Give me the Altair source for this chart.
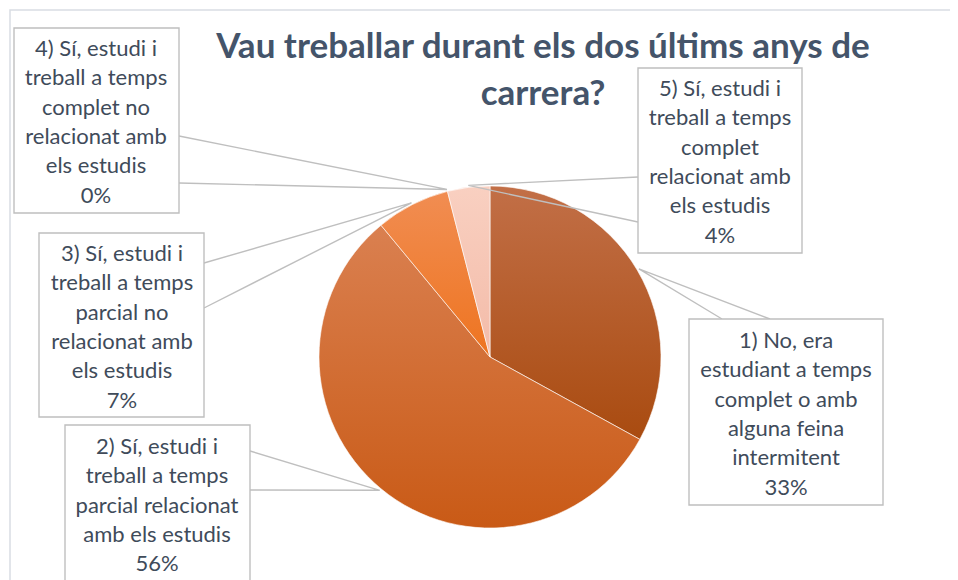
import math
import altair as alt
import pandas as pd

# ---------------- data ----------------
categories = [
    "1) No, era estudiant a temps complet o amb alguna feina intermitent",
    "2) Sí, estudi i treball a temps parcial relacionat amb els estudis",
    "3) Sí, estudi i treball a temps parcial no relacionat amb els estudis",
    "4) Sí, estudi i treball a temps complet no relacionat amb els estudis",
    "5) Sí, estudi i treball a temps complet relacionat amb els estudis",
]
values = [33, 56, 7, 0, 4]
label_lines = [
    ["1) No, era", "estudiant a temps", "complet o amb", "alguna feina", "intermitent"],
    ["2) Sí, estudi i", "treball a temps", "parcial relacionat", "amb els estudis"],
    ["3) Sí, estudi i", "treball a temps", "parcial no", "relacionat amb", "els estudis"],
    ["4) Sí, estudi i", "treball a temps", "complet no", "relacionat amb", "els estudis"],
    ["5) Sí, estudi i", "treball a temps", "complet", "relacionat amb", "els estudis"],
]
title_lines = ["Vau treballar durant els dos últims anys de", "carrera?"]

# ---------------- layout / style ----------------
W, H = 942, 572
OFF = 8
CX, CY, R = 490 - OFF, 357 - OFF, 171

slice_grad = [
    ("#C26F47", "#A94B10"),
    ("#DA8050", "#C95A16"),
    ("#F18D52", "#EE7420"),
    ("#F8CFC0", "#F8CFC0"),
    ("#F9D0C1", "#F3BBA8"),
]
# label boxes (page coords): x0, x1, y0, y1, text-centre x, first-line y, anchor A, anchor B
boxes = [
    (689, 883, 319, 505, 786, 341, (722, 319), (770, 319)),
    (65, 250, 425, 620, 157, 447, (250, 451), (250, 490)),
    (39, 204, 233, 417, 122, 254, (204, 263), (204, 308)),
    (14, 179, 28, 213, 96, 49, (179, 136), (179, 183)),
    (638, 802, 68, 253, 720, 89, (638, 177), (638, 222)),
]
LINE_COL = "#BFBFBF"
TEXT_COL = "#404B5A"
TITLE_COL = "#44546A"
FONT = "Lato"

xs = alt.Scale(domain=[0, W], range=[0, W], nice=False, zero=False)
ys = alt.Scale(domain=[0, H], range=[0, H], nice=False, zero=False)
theta_scale = alt.Scale(domain=[0, 100], range=[0, 2 * math.pi])

slices = pd.DataFrame({"cat": categories, "value": values, "order": list(range(len(values)))})

# ---------------- pie slices ----------------
arc_layers = []
for i, v in enumerate(values):
    if v == 0:
        continue
    c0, c1 = slice_grad[i]
    grad = alt.LinearGradient(
        gradient="linear",
        stops=[alt.GradientStop(color=c0, offset=0), alt.GradientStop(color=c1, offset=1)],
        x1=0, x2=0, y1=0, y2=1,
    )
    arc_layers.append(
        alt.Chart(slices)
        .transform_window(cum="sum(value)", sort=[alt.SortField("order")], frame=[None, 0])
        .transform_calculate(start="datum.cum - datum.value")
        .transform_filter(alt.datum.order == i)
        .mark_arc(fill=grad, stroke="white", strokeWidth=0.6, radius=R)
        .encode(
            theta=alt.Theta("start:Q", scale=theta_scale),
            theta2="cum:Q",
            x=alt.value(CX),
            y=alt.value(CY),
        )
    )

# ---------------- leader lines ----------------
total = sum(values)
rows = []
cum = 0
for i, v in enumerate(values):
    mid = (cum + v / 2) / total
    cum += v
    ang = 2 * math.pi * mid
    tx = CX + (R + 2) * math.sin(ang)
    ty = CY - (R + 2) * math.cos(ang)
    a, b = boxes[i][6], boxes[i][7]
    rows.append({"cat": categories[i], "seq": 0, "px": a[0] - OFF, "py": a[1] - OFF})
    rows.append({"cat": categories[i], "seq": 1, "px": tx, "py": ty})
    rows.append({"cat": categories[i], "seq": 2, "px": b[0] - OFF, "py": b[1] - OFF})
leaders = pd.DataFrame(rows)

leader_layer = alt.Chart(leaders).mark_line(color=LINE_COL, strokeWidth=1.4).encode(
    x=alt.X("px:Q", scale=xs, axis=None),
    y=alt.Y("py:Q", scale=ys, axis=None),
    detail="cat:N",
    order="seq:O",
)

# ---------------- boxes and labels ----------------
box_df = pd.DataFrame({
    "cat": categories,
    "x0": [b[0] - OFF for b in boxes],
    "x1": [b[1] - OFF for b in boxes],
    "y0": [b[2] - OFF for b in boxes],
    "y1": [b[3] - OFF for b in boxes],
    "tx": [b[4] - OFF for b in boxes],
    "ty": [b[5] - OFF for b in boxes],
    "label": ["\n".join(lines + [f"{v}%"]) for lines, v in zip(label_lines, values)],
})

box_layer = alt.Chart(box_df).mark_rect(fill="white", stroke=LINE_COL, strokeWidth=1.4).encode(
    x=alt.X("x0:Q", scale=xs, axis=None),
    x2="x1:Q",
    y=alt.Y("y0:Q", scale=ys, axis=None),
    y2="y1:Q",
)

label_layer = alt.Chart(box_df).mark_text(
    font=FONT, fontSize=22, lineBreak="\n", lineHeight=29.3,
    color=TEXT_COL, align="center", baseline="middle",
).encode(
    x=alt.X("tx:Q", scale=xs, axis=None),
    y=alt.Y("ty:Q", scale=ys, axis=None),
    text="label:N",
)

# ---------------- title ----------------
title_df = pd.DataFrame({"t": ["\n".join(title_lines)], "tx": [543 - OFF], "ty": [47 - OFF]})
title_layer = alt.Chart(title_df).mark_text(
    font=FONT, fontSize=35, fontWeight="bold", lineBreak="\n", lineHeight=47,
    color=TITLE_COL, align="center", baseline="middle",
).encode(
    x=alt.X("tx:Q", scale=xs, axis=None),
    y=alt.Y("ty:Q", scale=ys, axis=None),
    text="t:N",
)

# ---------------- chart frame (left and top edges visible; rest runs off the page) ----------------
frame_layer = alt.Chart(pd.DataFrame({"k": [0]})).mark_rect(
    fill="transparent", stroke="#D9DDE3", strokeWidth=1.5
).encode(
    x=alt.value(2), x2=alt.value(W + 40), y=alt.value(2), y2=alt.value(H + 40)
)

chart = alt.layer(
    frame_layer, *arc_layers, leader_layer, box_layer, label_layer, title_layer
).properties(
    width=W, height=H, padding=0, autosize="none", background="white"
).configure_view(stroke=None)

chart.save("out.html", embed_options={"renderer": "svg", "actions": False})
